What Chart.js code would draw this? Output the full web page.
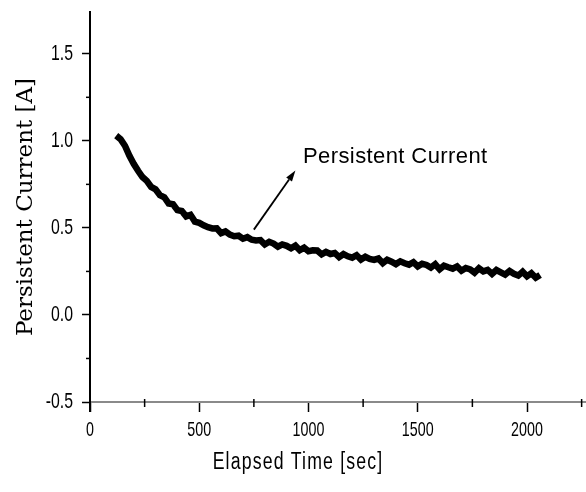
<!DOCTYPE html>
<html><head><meta charset="utf-8">
<script src="https://cdn.jsdelivr.net/npm/chart.js@4"></script>
<style>html,body{margin:0;padding:0;background:#fff;}#wrap{width:586px;height:492px;}</style>
</head><body><div id="wrap"><canvas id="c" width="586" height="492"></canvas></div>
<script>
// ---- data ----
const times = [120,140,160,180,200,220,240,260,280,300,320,340,360,380,400,420,440,460,480,500,
  520,540,560,580,600,620,640,660,680,700,720,740,760,780,800,820,840,860,880,900,
  920,940,960,980,1000,1020,1040,1060,1080,1100,1120,1140,1160,1180,1200,1220,1240,1260,1280,1300,
  1320,1340,1360,1380,1400,1420,1440,1460,1480,1500,1520,1540,1560,1580,1600,1620,1640,1660,1680,1700,
  1720,1740,1760,1780,1800,1820,1840,1860,1880,1900,1920,1940,1960,1980,2000,2020,2040,2060];
const currents = [1.030,1.010,0.972,0.915,0.868,0.828,0.792,0.770,0.735,0.722,0.688,0.676,0.640,0.636,0.602,0.597,0.566,0.575,0.536,0.529,
  0.515,0.504,0.497,0.498,0.470,0.480,0.461,0.452,0.455,0.438,0.447,0.432,0.428,0.430,0.405,0.420,0.410,0.392,0.405,0.397,
  0.383,0.398,0.372,0.386,0.366,0.371,0.370,0.348,0.362,0.350,0.356,0.332,0.350,0.337,0.329,0.343,0.318,0.334,0.322,0.316,
  0.324,0.298,0.317,0.306,0.292,0.308,0.297,0.289,0.303,0.279,0.294,0.287,0.272,0.291,0.262,0.283,0.274,0.266,0.279,0.254,
  0.270,0.262,0.243,0.268,0.250,0.259,0.236,0.258,0.245,0.232,0.252,0.236,0.226,0.248,0.222,0.240,0.214,0.230];
const xTickValues = [0,500,1000,1500,2000];
const yTickValues = [-0.5,0.0,0.5,1.0,1.5];
const xMinorTicks = [250,750,1250,1750,2250];
const yMinorTicks = [-0.25,0.25,0.75,1.25];
const xRange = [0,2270];
const yRange = [-0.5,1.74];
const xTitle = 'Elapsed Time [sec]';
const yTitle = 'Persistent Current [A]';
const labelText = 'Persistent Current';
const labelAt = [975,0.905];
const arrowTail = [750,0.49];
const arrowTip = [940,0.83];

const SANS = '"Liberation Sans",Arial,sans-serif';

function squeezedText(ctx, text, x, y, sx, align){
  ctx.save();
  ctx.translate(x,y);
  ctx.scale(sx,1);
  ctx.textAlign=align;
  ctx.fillText(text,0,0);
  ctx.restore();
}

const extras = {
  id:'extras',
  afterDraw(chart){
    const ctx = chart.ctx, xs = chart.scales.x, ys = chart.scales.y;
    const ca = chart.chartArea;
    ctx.save();
    ctx.fillStyle='#000';
    // minor ticks
    ctx.strokeStyle='#000'; ctx.lineWidth=1.5;
    yMinorTicks.forEach(v=>{const y=ys.getPixelForValue(v);ctx.beginPath();ctx.moveTo(ca.left-4,y);ctx.lineTo(ca.left,y);ctx.stroke();});
    xMinorTicks.forEach(v=>{const x=xs.getPixelForValue(v);ctx.beginPath();ctx.moveTo(x,ca.bottom-3);ctx.lineTo(x,ca.bottom+5);ctx.stroke();});
    // y axis line extension below x axis
    ctx.lineWidth=2;ctx.beginPath();ctx.moveTo(ca.left,ca.bottom);ctx.lineTo(ca.left,ca.bottom+10);ctx.stroke();
    // tick labels (narrow, as in the reference)
    ctx.textBaseline='middle';
    ctx.font='22px '+SANS;
    yTickValues.forEach(v=>squeezedText(ctx,v.toFixed(1),ca.left-17,ys.getPixelForValue(v),0.72,'right'));
    ctx.font='21px '+SANS;
    xTickValues.forEach(v=>squeezedText(ctx,String(v),xs.getPixelForValue(v),ca.bottom+28,0.68,'center'));
    // arrow
    const x0=xs.getPixelForValue(arrowTail[0]), y0=ys.getPixelForValue(arrowTail[1]);
    const x1=xs.getPixelForValue(arrowTip[0]), y1=ys.getPixelForValue(arrowTip[1]);
    const ang=Math.atan2(y1-y0,x1-x0), L=11, W=3.5;
    const bx=x1-L*Math.cos(ang), by=y1-L*Math.sin(ang);
    ctx.lineWidth=1.8;ctx.beginPath();ctx.moveTo(x0,y0);ctx.lineTo(bx,by);ctx.stroke();
    ctx.beginPath();ctx.moveTo(x1,y1);
    ctx.lineTo(bx+W*Math.sin(ang),by-W*Math.cos(ang));
    ctx.lineTo(bx-W*Math.sin(ang),by+W*Math.cos(ang));ctx.closePath();ctx.fill();
    // label
    ctx.font='22px '+SANS;
    if('letterSpacing' in ctx) ctx.letterSpacing='0.4px';
    ctx.textAlign='left';
    ctx.fillText(labelText,xs.getPixelForValue(labelAt[0]),ys.getPixelForValue(labelAt[1]));
    // x title
    ctx.font='23px '+SANS;
    if('letterSpacing' in ctx) ctx.letterSpacing='1.5px';
    squeezedText(ctx,xTitle,298,463,0.77,'center');
    ctx.restore();
  }
};

new Chart(document.getElementById('c'),{
  type:'line',
  data:{datasets:[{
    data:times.map((t,i)=>({x:t,y:currents[i]})),
    borderColor:'#000',borderWidth:6.5,pointRadius:0,tension:0,fill:false,borderJoinStyle:'miter'
  }]},
  options:{
    responsive:false,animation:false,devicePixelRatio:1,
    layout:{padding:{top:12,right:0,left:0,bottom:0}},
    plugins:{legend:{display:false},tooltip:{enabled:false}},
    scales:{
      x:{type:'linear',min:xRange[0],max:xRange[1],
        afterBuildTicks:s=>{s.ticks=xTickValues.map(v=>({value:v}));},
        afterFit:s=>{s.height=90;},
        ticks:{display:false},
        grid:{drawOnChartArea:false,drawTicks:true,tickLength:10,tickColor:'#000',tickWidth:1.5},
        border:{color:'#8a8a8a',width:2}
      },
      y:{type:'linear',min:yRange[0],max:yRange[1],
        afterBuildTicks:s=>{s.ticks=yTickValues.map(v=>({value:v}));},
        afterFit:s=>{s.width=90;},
        ticks:{display:false},
        grid:{drawOnChartArea:false,drawTicks:true,tickLength:8,tickColor:'#000',tickWidth:1.5},
        border:{color:'#000',width:2},
        title:{display:true,text:yTitle,color:'#000',font:{family:'"DejaVu Serif",serif',size:23},padding:{top:12,bottom:0}}
      }
    }
  },
  plugins:[extras]
});
</script></body></html>
